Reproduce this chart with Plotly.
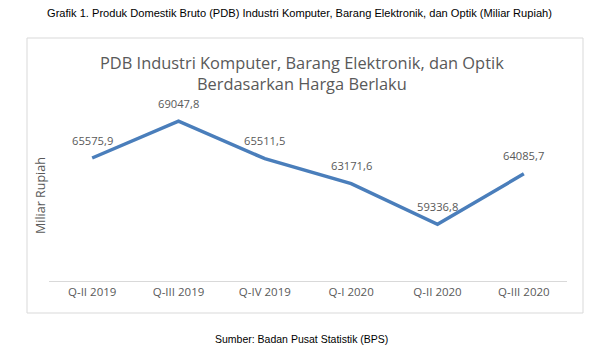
import plotly.graph_objects as go

categories = ["Q-II 2019", "Q-III 2019", "Q-IV 2019", "Q-I 2020", "Q-II 2020", "Q-III 2020"]
values = [65575.9, 69047.8, 65511.5, 63171.6, 59336.8, 64085.7]
labels = [f"{v:.1f}".replace(".", ",") for v in values]

W, H = 600, 353
ml, mr, mt, mb = 49, 33, 111, 72

fig = go.Figure()
fig.add_trace(go.Scatter(
    x=categories, y=values, mode="lines",
    line=dict(color="#4A7EBB", width=3.5),
    hoverinfo="skip", showlegend=False,
))

for c, v, t in zip(categories, values, labels):
    fig.add_annotation(x=c, y=v, text=t, showarrow=False, yshift=18,
                       font=dict(family="Open Sans", size=11.2, color="#595959"))

def px_x(p):
    return (p - ml) / (W - ml - mr)

def px_y(p):
    return 1 - (p - mt) / (H - mt - mb)

# chart border box
fig.add_shape(type="rect", xref="paper", yref="paper",
              x0=px_x(27), x1=px_x(583), y0=px_y(313), y1=px_y(38),
              line=dict(color="#D9D9D9", width=1), fillcolor="rgba(0,0,0,0)", layer="below")

fig.add_annotation(xref="paper", yref="paper", x=px_x(302), y=px_y(73), yanchor="middle",
                   text="PDB Industri Komputer, Barang Elektronik, dan Optik<br>Berdasarkan Harga Berlaku",
                   showarrow=False, font=dict(family="Open Sans", size=16.4, color="#595959"))
fig.add_annotation(xref="paper", yref="paper", x=px_x(299), y=px_y(13), yanchor="middle",
                   text="Grafik 1. Produk Domestik Bruto (PDB) Industri Komputer, Barang Elektronik, dan Optik (Miliar Rupiah)",
                   showarrow=False, font=dict(family="Liberation Sans", size=11.1, color="#000000"))
fig.add_annotation(xref="paper", yref="paper", x=px_x(301), y=px_y(339), yanchor="middle",
                   text="Sumber: Badan Pusat Statistik (BPS)",
                   showarrow=False, font=dict(family="Liberation Sans", size=10.5, color="#000000"))
fig.add_annotation(xref="paper", yref="paper", x=px_x(40), y=px_y(196),
                   xanchor="center", yanchor="middle", textangle=-90,
                   text="Miliar Rupiah", showarrow=False,
                   font=dict(family="Open Sans", size=12.5, color="#595959"))

fig.update_layout(
    width=W, height=H,
    margin=dict(l=ml, r=mr, t=mt, b=mb),
    paper_bgcolor="white", plot_bgcolor="white",
    xaxis=dict(showgrid=False, showline=True, linecolor="#D9D9D9", linewidth=1,
               ticks="", tickfont=dict(family="Open Sans", size=11.5, color="#595959"),
               range=[-0.5, 5.5], fixedrange=True),
    yaxis=dict(range=[54000, 70000], showgrid=False, showticklabels=False, zeroline=False,
               fixedrange=True),
)

fig.write_html("out.html")
